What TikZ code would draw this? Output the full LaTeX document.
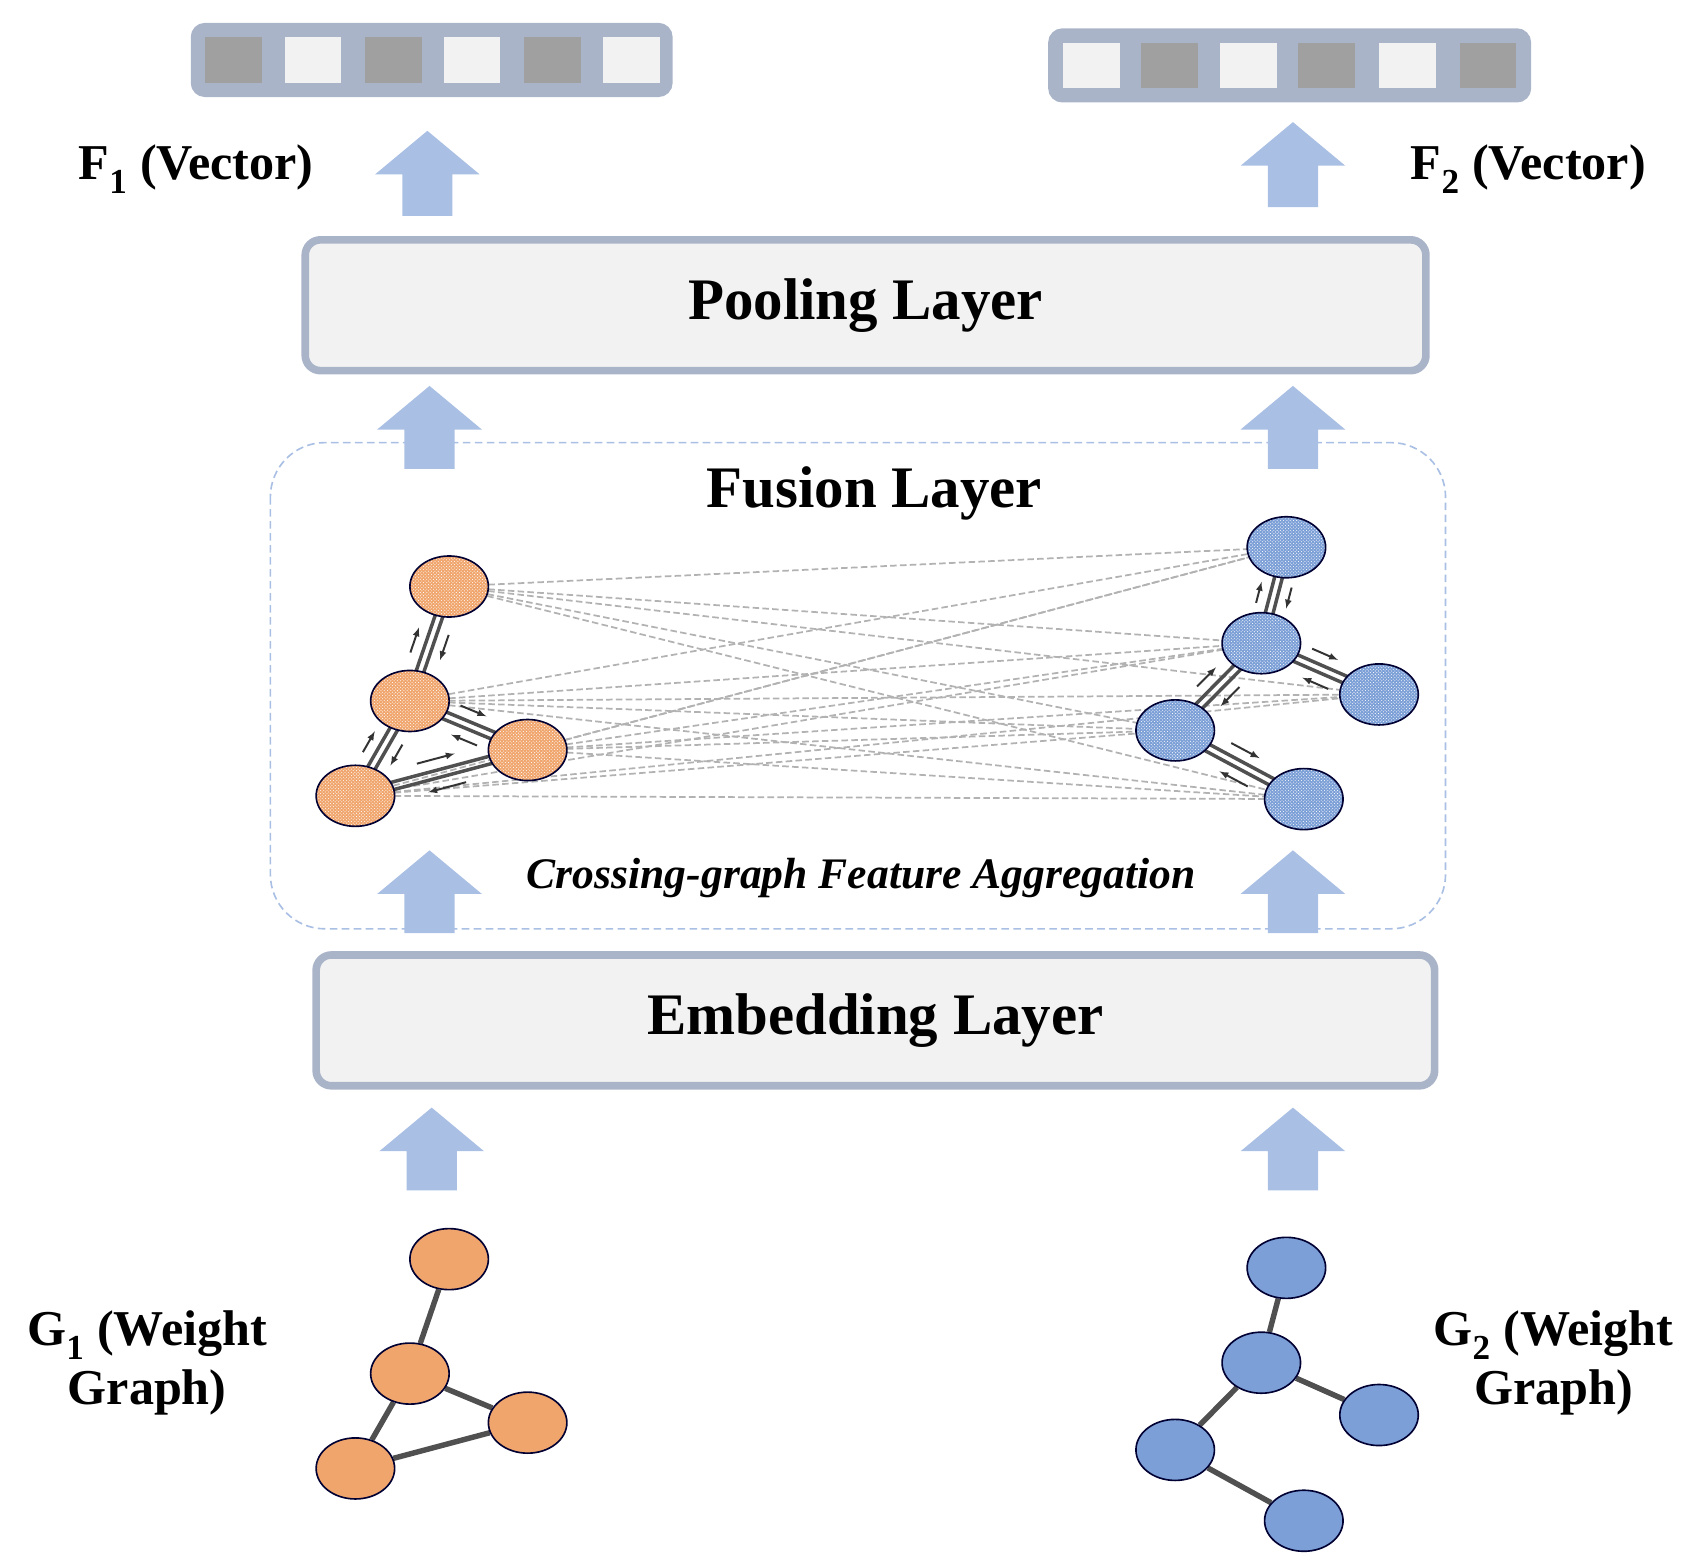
\documentclass[tikz,border=0pt]{standalone}
\usepackage{fontspec}
\setmainfont{Liberation Serif}
\usetikzlibrary{calc,patterns,backgrounds,shapes.geometric}
\definecolor{frameblue}{HTML}{AAB4C8}
\definecolor{arrblue}{HTML}{A9BFE4}
\definecolor{cellgray}{HTML}{A0A0A0}
\definecolor{celllight}{HTML}{F2F2F2}
\definecolor{orn}{HTML}{F0A56C}
\definecolor{blu}{HTML}{7B9FD6}
\definecolor{edgegray}{HTML}{505050}
\tikzset{
  big/.style={font=\fontsize{54}{60}\selectfont\bfseries},
  lab/.style={font=\fontsize{46}{54}\selectfont\bfseries,align=center},
  layer/.style={draw=frameblue,line width=7pt,fill=celllight,rounded corners=14pt},
  vec/.style={draw=frameblue,line width=6pt,fill=frameblue,rounded corners=10pt},
  nd/.style={ellipse,draw=black!80!blue,line width=1.5pt,minimum width=72pt,minimum height=56pt,inner sep=0pt},
  on/.style={nd,fill=orn},
  bn/.style={nd,fill=blu},
  onp/.style={nd,preaction={fill=orn},pattern=crosshatch dots,pattern color=white},
  bnp/.style={nd,preaction={fill=blu},pattern=crosshatch dots,pattern color=white},
  gedge/.style={edgegray,line width=5pt},
  dedge/.style={gray!60,dash pattern=on 6pt off 3pt,line width=1.6pt},
  fedge/.style={edgegray,line width=3.2pt},
  sarr/.style={-latex,black!80,line width=1.8pt},
}
\newcommand{\uparr}[3]{% x, ytop, ybottom
  \fill[arrblue] (#1-23,#3) -- (#1-23,#2+40) -- (#1-48,#2+40) -- (#1,#2) -- (#1+48,#2+40) -- (#1+23,#2+40) -- (#1+23,#3) -- cycle;}
\newcommand{\fe}[2]{%
  \draw[fedge] ($(#1)!3.5pt!90:(#2)$) -- ($(#2)!3.5pt!-90:(#1)$);
  \draw[fedge] ($(#1)!3.5pt!-90:(#2)$) -- ($(#2)!3.5pt!90:(#1)$);
  \draw[sarr] ($($(#1)!0.38!(#2)$)!14pt!90:(#2)$) -- ($($(#1)!0.6!(#2)$)!14pt!-90:(#1)$);
  \draw[sarr] ($($(#1)!0.62!(#2)$)!14pt!90:(#1)$) -- ($($(#1)!0.4!(#2)$)!14pt!-90:(#2)$);}
\begin{document}
\begin{tikzpicture}[x=1pt,y=-1pt]
\useasboundingbox (0,0) rectangle (1553,1430);
% vectors
\node[vec,minimum width=436pt,minimum height=62pt] (v1) at (396,55) {};
\node[vec,minimum width=437pt,minimum height=62pt] (v2) at (1183,60) {};
\foreach \x/\c in {214/cellgray,287/celllight,361/cellgray,433/celllight,507/cellgray,579/celllight}
  \fill[\c] (\x-26,34) rectangle (\x+26,76);
\foreach \x/\c in {1001/celllight,1073/cellgray,1145/celllight,1217/cellgray,1291/celllight,1365/cellgray}
  \fill[\c] (\x-26,39) rectangle (\x+26,81);
\node[lab] (f1) at (180,155) {F\textsubscript{1} (Vector)};
\node[lab] (f2) at (1402,155) {F\textsubscript{2} (Vector)};
% arrows
\uparr{392}{120}{198}
\uparr{1186}{112}{190}
\uparr{394}{354}{430}
\uparr{1186}{354}{430}
\uparr{394}{780}{856}
\uparr{1186}{780}{856}
\uparr{396}{1016}{1092}
\uparr{1186}{1016}{1092}
% layers
\node[layer,minimum width=1028pt,minimum height=120pt,big] (pool) at (794,280) {Pooling Layer};
\draw[arrblue,dash pattern=on 7pt off 4pt,line width=1.5pt,rounded corners=50pt] (248,406) rectangle (1326,852);
\node[big] (fus) at (802,453) {Fusion Layer};
\node[layer,minimum width=1026pt,minimum height=120pt,big] (emb) at (803,936) {Embedding Layer};
\node[font=\fontsize{40}{44}\selectfont\bfseries\itshape] (cga) at (790,805) {Crossing-graph Feature Aggregation};
% fusion graph
\node[onp] (a1) at (412,538) {};
\node[onp] (a2) at (376,643) {};
\node[onp] (a3) at (484,688) {};
\node[onp] (a4) at (326,730) {};
\node[bnp] (b1) at (1180,502) {};
\node[bnp] (b2) at (1157,590) {};
\node[bnp] (b3) at (1265,637) {};
\node[bnp] (b4) at (1078,670) {};
\node[bnp] (b5) at (1196,733) {};
\begin{pgfonlayer}{background}
\foreach \a in {a1,a2,a3,a4}
  \foreach \b in {b1,b2,b3,b4,b5}
    \draw[dedge] (\a.center) -- (\b.center);
\fe{a1.center}{a2.center}
\fe{a2.center}{a3.center}
\fe{a2.center}{a4.center}
\fe{a4.center}{a3.center}
\fe{b1.center}{b2.center}
\fe{b2.center}{b3.center}
\fe{b2.center}{b4.center}
\fe{b4.center}{b5.center}
\end{pgfonlayer}
% bottom graphs
\node[on] (g1) at (412,1155) {};
\node[on] (g2) at (376,1260) {};
\node[on] (g3) at (484,1305) {};
\node[on] (g4) at (326,1347) {};
\node[bn] (h1) at (1180,1163) {};
\node[bn] (h2) at (1157,1250) {};
\node[bn] (h3) at (1265,1298) {};
\node[bn] (h4) at (1078,1330) {};
\node[bn] (h5) at (1196,1395) {};
\begin{pgfonlayer}{background}
\draw[gedge] (g1) -- (g2); \draw[gedge] (g2) -- (g3); \draw[gedge] (g2) -- (g4); \draw[gedge] (g4) -- (g3);
\draw[gedge] (h1) -- (h2); \draw[gedge] (h2) -- (h3); \draw[gedge] (h2) -- (h4); \draw[gedge] (h4) -- (h5);
\end{pgfonlayer}
\node[lab] (gl1) at (135,1250) {G\textsubscript{1} (Weight\\Graph)};
\node[lab] (gl2) at (1425,1250) {G\textsubscript{2} (Weight\\Graph)};
\end{tikzpicture}
\end{document}
